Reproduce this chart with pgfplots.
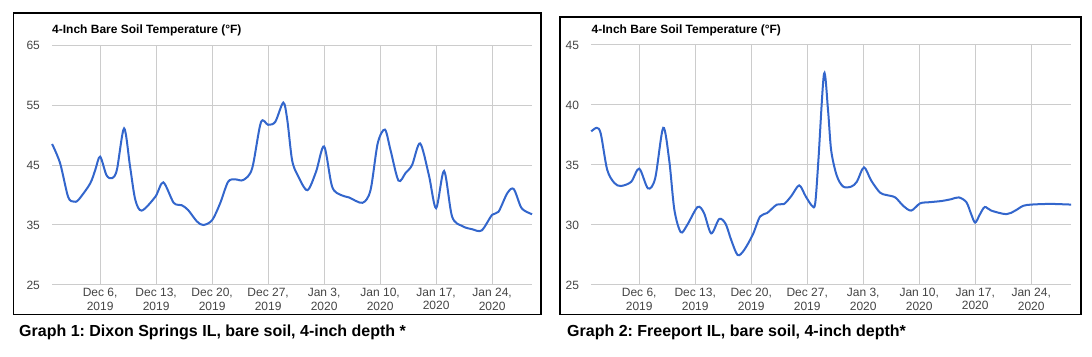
\documentclass[border=0pt]{standalone}
\usepackage{pgfplots}
\pgfplotsset{compat=1.18}
\usepackage{fontspec}
\setmainfont{Liberation Sans}
\frenchspacing
\definecolor{line}{HTML}{3366CC}
\definecolor{gridc}{HTML}{CCCCCC}
\definecolor{tickc}{HTML}{444444}
\pgfplotsset{
  soil/.style={
    scale only axis, width=480pt, height=240pt, anchor=south west,
    xmin=0, xmax=60,
    xtick={6,13,20,27,34,41,48,55},
    xticklabels={{Dec 6,\\2019},{Dec 13,\\2019},{Dec 20,\\2019},{Dec 27,\\2019},{Jan 3,\\2020},{Jan 10,\\2020},{Jan 17,\\2020},{Jan 24,\\2020}},
    xticklabel style={align=center, font=\fontsize{12}{13.5}\selectfont, text=tickc, inner sep=0pt, yshift=-3pt},
    yticklabel style={font=\fontsize{12}{14}\selectfont, text=tickc, inner sep=0pt, xshift=-12pt},
    grid=major, major grid style={draw=gridc, line width=1pt},
    axis line style={draw=none}, tick style={draw=none},
    clip=false,
  }
}
\begin{document}
\begin{tikzpicture}[x=1pt,y=1pt]
\useasboundingbox (0,0) rectangle (1092,356);
% boxes
\draw[line width=1.2pt] (13.5,343) rectangle (541,41.3);
\draw[line width=1.2pt] (560,339) rectangle (1081,41.3);
% titles
\node[anchor=west, inner sep=0pt, font=\fontsize{12}{14}\selectfont\bfseries] at (52,326) {4-Inch Bare Soil Temperature (°F)};
\node[anchor=west, inner sep=0pt, font=\fontsize{12}{14}\selectfont\bfseries] at (591.5,326) {4-Inch Bare Soil Temperature (°F)};
% captions
\node[anchor=base west, inner sep=0pt, font=\fontsize{16}{18}\selectfont\bfseries] at (19,19.5) {Graph 1: Dixon Springs IL, bare soil, 4-inch depth *};
\node[anchor=base west, inner sep=0pt, font=\fontsize{16}{18}\selectfont\bfseries] at (567,19.5) {Graph 2: Freeport IL, bare soil, 4-inch depth*};
\begin{axis}[soil, at={(52.1pt,71pt)},
  ymin=25, ymax=65, ytick={25,35,45,55,65}, yticklabels={25,35,45,55,65}]
\addplot[line, line width=2pt, smooth] coordinates {
(0,48.5) (1,45.3) (2,39.7) (2.7,38.9) (3.3,39.2) (4.75,41.9) (5.4,44.2) (6,46.4) (6.8,43.3) (7.5,42.8) (8.1,44.2) (9,51.1) (9.75,44.7) (10.4,39.2) (11.2,37.4) (12.9,39.7) (13.9,42.1) (15.2,38.7) (16.2,38.3) (17,37.5) (18.1,35.6) (18.9,35.0) (20,35.8) (21,38.6) (22,42.2) (22.9,42.6) (23.9,42.5) (25,44.4) (26.1,52.1) (27,51.7) (27.9,52.2) (28.9,55.4) (29.4,52.5) (30,45.8) (30.7,43.3) (31.9,40.8) (33,43.9) (34,48.1) (35,41.4) (36.1,40) (37.1,39.6) (38.8,38.7) (39.8,40.8) (40.7,48.6) (41.6,50.9) (42.3,47.5) (43.3,42.4) (44.2,43.7) (45,45) (46,48.6) (47.1,43.3) (48,37.8) (49,44) (50,36.4) (51.3,34.8) (52.5,34.3) (53.7,34.1) (55,36.7) (55.8,37.2) (56.9,40.3) (57.7,41) (58.6,38) (59.3,37.2) (60,36.8)
};
\end{axis}
\begin{axis}[soil, at={(591.2pt,71pt)},
  ymin=25, ymax=45, ytick={25,30,35,40,45}, yticklabels={25,30,35,40,45}]
\addplot[line, line width=2pt, smooth] coordinates {
(0,37.8) (0.7,38.1) (1.2,37.6) (2,34.6) (2.9,33.5) (3.7,33.25) (5,33.6) (6,34.7) (7.1,33.05) (8,33.9) (9,38.1) (9.75,35.4) (10.4,31.25) (11.2,29.4) (12,30.0) (13.3,31.5) (14.1,31.0) (15,29.3) (16,30.5) (16.8,30.1) (17.5,28.75) (18.3,27.5) (19.1,27.9) (20.2,29.2) (21.1,30.7) (22,31.0) (23.2,31.7) (24.1,31.75) (25,32.4) (26,33.3) (26.8,32.4) (27.6,31.6) (28,31.8) (28.4,35.4) (29.1,42.6) (29.6,39.6) (30,36.2) (30.7,34.1) (31.5,33.2) (32.5,33.2) (33.2,33.6) (34.1,34.8) (35,33.7) (36.1,32.7) (36.9,32.5) (38,32.3) (39,31.6) (40,31.2) (41.1,31.8) (42.3,31.9) (43.8,32.0) (45,32.15) (45.95,32.3) (46.9,31.9) (47.5,30.9) (48,30.2) (48.6,30.9) (49.2,31.5) (50,31.2) (51.9,30.9) (53,31.2) (54,31.6) (55,31.7) (56.7,31.75) (58,31.75) (60,31.7)
};
\end{axis}
\end{tikzpicture}
\end{document}
